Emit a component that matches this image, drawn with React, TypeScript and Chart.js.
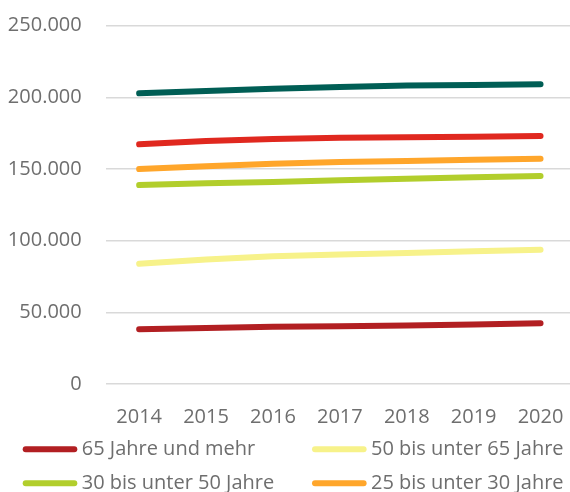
import React, { useEffect, useRef } from 'react';
import { Chart, registerables } from 'chart.js';

Chart.register(...registerables);

const years = ['2014', '2015', '2016', '2017', '2018', '2019', '2020'];
const seriesLabels = [
  '65 Jahre und mehr',
  '50 bis unter 65 Jahre',
  '30 bis unter 50 Jahre',
  '25 bis unter 30 Jahre',
  '18 bis unter 25 Jahre',
  'unter 18 Jahre',
];
const s65plus = [38200, 39100, 39900, 40300, 40800, 41600, 42400];
const s50to65 = [83900, 86800, 89200, 90300, 91400, 92600, 93700];
const s30to50 = [138800, 140000, 141000, 142200, 143200, 144200, 145100];
const s25to30 = [150000, 152000, 153600, 154900, 155600, 156400, 157200];
const s18to25 = [167200, 169500, 171000, 171800, 172200, 172600, 173000];
const sUnder18 = [202800, 204500, 206000, 207300, 208200, 208700, 209100];
const seriesValues = [s65plus, s50to65, s30to50, s25to30, s18to25, sUnder18];
const seriesColors = ['#B21F22', '#F7F28A', '#B2CE2C', '#FFA62B', '#E0281F', '#005E55'];
const yMax = 250000;
const yStep = 50000;

const FONT = "'Open Sans', 'Noto Sans', sans-serif";
const TEXT = '#6e6e6e';

const fmt = (v: number) => String(v).replace(/\B(?=(\d{3})+(?!\d))/g, '.');

const zeroPad = (scale: any) => {
  scale.paddingTop = 0;
  scale.paddingBottom = 0;
  scale.paddingLeft = 0;
  scale.paddingRight = 0;
};

const gridLegend = {
  id: 'gridLegend',
  afterDraw(chart: any) {
    const ctx = chart.ctx;
    const area = chart.chartArea;
    ctx.save();
    ctx.font = `20px ${FONT}`;
    ctx.textBaseline = 'middle';
    ctx.textAlign = 'left';
    chart.data.datasets.forEach((ds: any, i: number) => {
      const col = i % 2;
      const row = Math.floor(i / 2);
      const x0 = col === 0 ? 25.7 : 315;
      const len = 48.6;
      const y = area.bottom + 65.3 + row * 34;
      ctx.strokeStyle = ds.borderColor;
      ctx.lineWidth = 6;
      ctx.lineCap = 'round';
      ctx.beginPath();
      ctx.moveTo(x0, y);
      ctx.lineTo(x0 + len, y);
      ctx.stroke();
      ctx.fillStyle = TEXT;
      ctx.fillText(ds.label, x0 + len + 7.4, y);
    });
    ctx.restore();
  },
};

export default function App() {
  const ref = useRef<HTMLCanvasElement | null>(null);

  useEffect(() => {
    if (!ref.current) return;
    const chart = new Chart(ref.current, {
      type: 'line',
      data: {
        labels: years,
        datasets: seriesLabels.map((label, i) => ({
          label,
          data: seriesValues[i],
          borderColor: seriesColors[i],
          backgroundColor: seriesColors[i],
          borderWidth: 6,
          borderCapStyle: 'round',
          borderJoinStyle: 'round',
          pointRadius: 0,
          pointHoverRadius: 0,
          tension: 0,
          fill: false,
        })),
      },
      options: {
        responsive: false,
        animation: false,
        devicePixelRatio: 1,
        layout: { padding: { top: 25.7, left: 0, right: 0, bottom: 100 } },
        plugins: {
          legend: { display: false },
          tooltip: { enabled: false },
        },
        scales: {
          x: {
            offset: true,
            grid: { display: false, drawTicks: false },
            border: { display: false },
            ticks: { color: TEXT, font: { family: FONT, size: 20 }, padding: 21, maxRotation: 0 },
            afterFit: (scale: any) => {
              scale.height = 46;
              zeroPad(scale);
            },
          },
          y: {
            min: 0,
            max: yMax,
            grid: { color: '#d9d9d9', lineWidth: 1.5, drawTicks: false },
            border: { display: false },
            ticks: {
              stepSize: yStep,
              color: TEXT,
              font: { family: FONT, size: 20 },
              padding: 24,
              callback: (v: any) => fmt(Number(v)),
            },
            afterFit: (scale: any) => {
              scale.width = 105.7;
              zeroPad(scale);
            },
          },
        },
      },
      plugins: [gridLegend],
    } as any);
    return () => chart.destroy();
  }, []);

  return (
    <div
      style={{
        position: 'fixed',
        left: 0,
        top: 0,
        width: 570,
        height: 492,
        overflow: 'hidden',
        background: '#fff',
      }}
    >
      <canvas ref={ref} width={574} height={530} style={{ width: 574, height: 530, display: 'block' }} />
    </div>
  );
}
